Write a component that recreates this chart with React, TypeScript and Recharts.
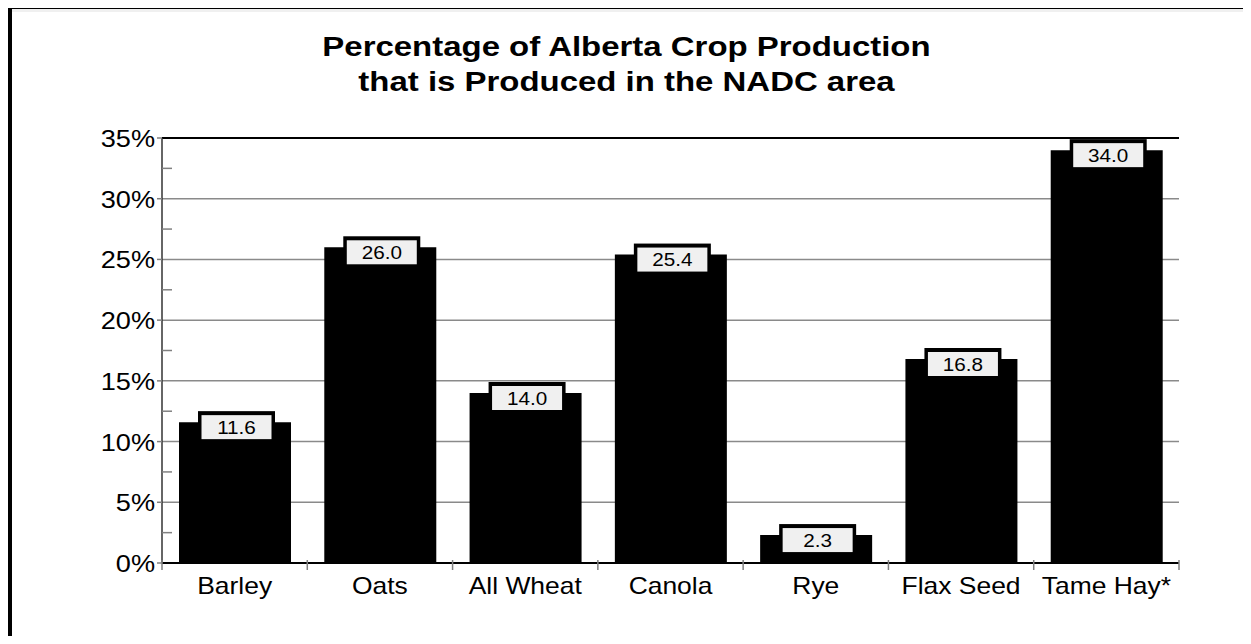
import { Bar, BarChart, CartesianGrid, LabelList, ReferenceLine, XAxis, YAxis } from 'recharts';

const crops = ['Barley', 'Oats', 'All Wheat', 'Canola', 'Rye', 'Flax Seed', 'Tame Hay*'];
const shares = [11.6, 26.0, 14.0, 25.4, 2.3, 16.8, 34.0];
const yTicks = [0, 2.5, 5, 7.5, 10, 12.5, 15, 17.5, 20, 22.5, 25, 27.5, 30, 32.5, 35];
const gridValues = [5, 10, 15, 20, 25, 30];
const titleLines = ['Percentage of Alberta Crop Production', 'that is Produced in the NADC area'];

const data = crops.map((crop, i) => ({ crop, share: shares[i] }));

const FONT = '"Liberation Sans", Arial, Helvetica, sans-serif';
const TICK_GRAY = '#808080';

function YTick({ x, y, payload }: any) {
  const v = payload.value as number;
  if (v % 5 !== 0) {
    // minor tick, drawn inside the plot
    return <line x1={x} x2={x + 10} y1={y} y2={y} stroke={TICK_GRAY} strokeWidth={1.5} />;
  }
  return (
    <g>
      <line x1={x - 5} x2={x} y1={y} y2={y} stroke={TICK_GRAY} strokeWidth={1.5} />
      <text
        transform={`translate(${x - 7},${y + 9}) scale(1.18,1)`}
        textAnchor="end"
        fontSize={23}
        fontFamily={FONT}
        fill="#000"
      >
        {v}%
      </text>
    </g>
  );
}

function XTick({ x, y, payload, index }: any) {
  const half = payload.offset ?? 0;
  return (
    <g>
      {index === 0 && (
        <line x1={x - half} x2={x - half} y1={y - 3} y2={y + 7} stroke={TICK_GRAY} strokeWidth={1.5} />
      )}
      <line x1={x + half} x2={x + half} y1={y - 3} y2={y + 7} stroke={TICK_GRAY} strokeWidth={1.5} />
      <text
        transform={`translate(${x},${y + 31}) scale(1.15,1)`}
        textAnchor="middle"
        fontSize={23}
        fontFamily={FONT}
        fill="#000"
      >
        {payload.value}
      </text>
    </g>
  );
}

function ValueBox(props: any) {
  const x = Number(props.x);
  const y = Number(props.y);
  const w = Number(props.width);
  const cx = x + w / 2 + 1.5;
  const value = Number(props.value);
  return (
    <g>
      <rect x={cx - 38.5} y={y - 11} width={77} height={16} fill="#000" />
      <rect x={cx - 35} y={y - 7} width={70} height={24} fill="#f0f0f0" />
      <text
        transform={`translate(${cx},${y + 11.5}) scale(1.15,1)`}
        textAnchor="middle"
        fontSize={18}
        fontFamily={FONT}
        fill="#000"
      >
        {value.toFixed(1)}
      </text>
    </g>
  );
}

export default function App() {
  return (
    <div style={{ position: 'relative', width: 1243, height: 628, fontFamily: FONT }}>
      {/* outer frame: left and top edges only are visible in the picture */}
      <div
        style={{
          position: 'absolute',
          left: 0,
          top: -3,
          width: 1243,
          height: 639,
          borderLeft: '4px solid #000',
          borderTop: '4px solid #000',
          boxSizing: 'border-box',
        }}
      >
        <div style={{ height: 3, background: '#f0f0f0' }} />
      </div>
      <div
        style={{
          position: 'absolute',
          left: -3.5,
          top: 22,
          width: 1243,
          textAlign: 'center',
          fontWeight: 'bold',
          fontSize: 27,
          lineHeight: '35px',
          color: '#000',
        }}
      >
        {titleLines.map((line) => (
          <div key={line} style={{ transform: 'scaleX(1.22)' }}>
            {line}
          </div>
        ))}
      </div>
      <div style={{ position: 'absolute', left: 0, top: 0 }}>
        <BarChart
          width={1243}
          height={628}
          data={data}
          margin={{ top: 130, right: 72, bottom: 33, left: 0 }}
        >
          <CartesianGrid
            horizontal
            vertical={false}
            horizontalValues={gridValues}
            stroke="#8a8a8a"
            strokeWidth={1.5}
          />
          <XAxis
            dataKey="crop"
            height={40}
            interval={0}
            tickSize={0}
            tickMargin={0}
            tickLine={false}
            axisLine={{ stroke: '#000', strokeWidth: 2 }}
            tick={<XTick />}
          />
          <YAxis
            width={154}
            domain={[0, 35]}
            ticks={yTicks}
            interval={0}
            tickSize={0}
            tickMargin={0}
            tickLine={false}
            axisLine={{ stroke: '#333', strokeWidth: 1.5 }}
            tick={<YTick />}
          />
          <YAxis
            yAxisId="right"
            orientation="right"
            width={0}
            domain={[0, 35]}
            tick={false}
            tickLine={false}
            axisLine={{ stroke: '#555', strokeWidth: 2 }}
          />
          <ReferenceLine y={35} stroke="#000" strokeWidth={2} />
          <Bar dataKey="share" fill="#000" barSize={112} isAnimationActive={false}>
            <LabelList dataKey="share" content={<ValueBox />} />
          </Bar>
        </BarChart>
      </div>
    </div>
  );
}
